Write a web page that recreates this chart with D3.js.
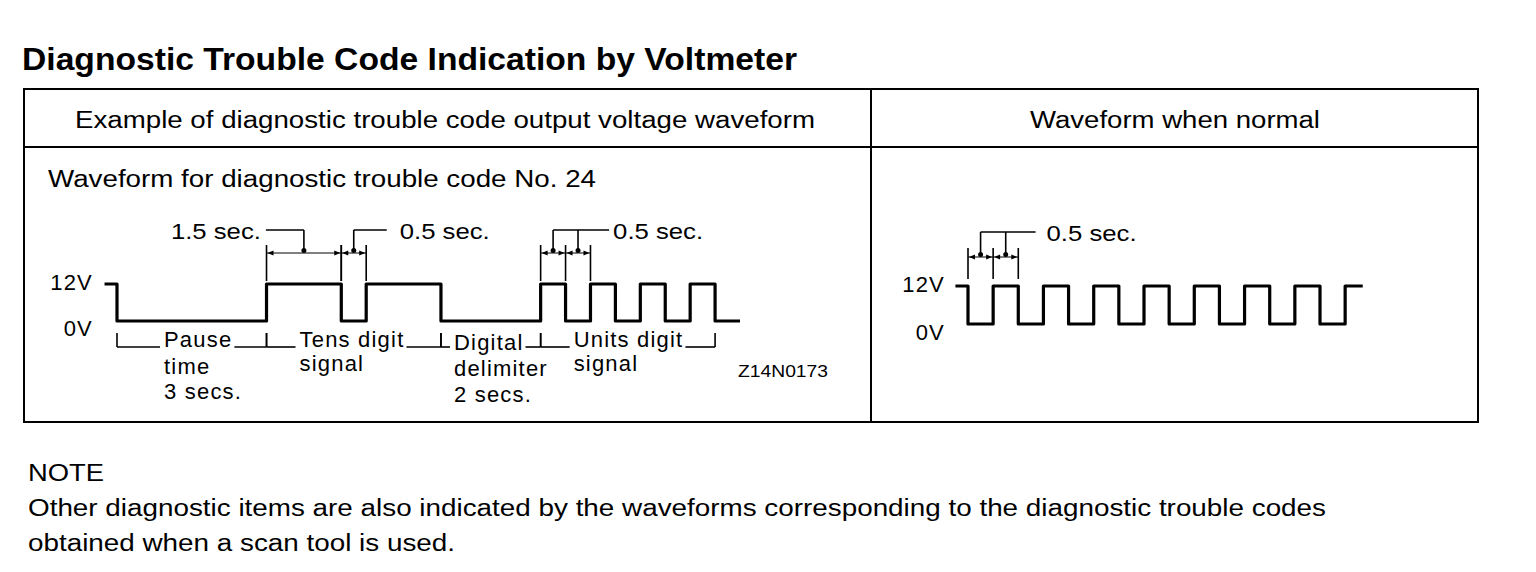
<!DOCTYPE html>
<html>
<head>
<meta charset="utf-8">
<script src="https://cdn.jsdelivr.net/npm/d3@7"></script>
<style>
  body { margin: 0; background: #fff; }
  text { font-family: "Liberation Sans", Arial, sans-serif; fill: #000; }
  .lbl { font-size: 22px; letter-spacing: 1.2px; }
</style>
</head>
<body>
<div id="chart"></div>
<script>
// texts
const titleText = "Diagnostic Trouble Code Indication by Voltmeter";
const headerTexts = ["Example of diagnostic trouble code output voltage waveform", "Waveform when normal"];
const subTitle = "Waveform for diagnostic trouble code No. 24";
const figCode = "Z14N0173";
const noteLines = [
  "NOTE",
  "Other diagnostic items are also indicated by the waveforms corresponding to the diagnostic trouble codes",
  "obtained when a scan tool is used."
];
const levelValues = [12, 0];
const levelLabels = ["12V", "0V"];

// code 24 waveform: time (sec) where each level starts, and the level (V)
const codeTimes  = [-0.25, 0, 3, 4.5, 5, 6.5, 8.5, 9, 9.5, 10, 10.5, 11, 11.5, 12, 12.5];
const codeLevels = [12,    0, 12, 0,  12, 0,  12,  0, 12,  0,  12,   0,  12,   0,  0];

// normal waveform
const normalTimes  = [-0.25, 0, 0.5, 1, 1.5, 2, 2.5, 3, 3.5, 4, 4.5, 5, 5.5, 6, 6.5, 7, 7.5, 7.85];
const normalLevels = [12,    0, 12,  0, 12,  0, 12,  0, 12,  0, 12,  0, 12,  0, 12,  0, 12,  12];

// labelled spans under the code waveform
const codeSpans = [
  { t0: 0,   t1: 3,   lines: ["Pause", "time", "3 secs."] },
  { t0: 3,   t1: 6.5, lines: ["Tens digit", "signal"] },
  { t0: 6.5, t1: 8.5, lines: ["Digital", "delimiter", "2 secs."] },
  { t0: 8.5, t1: 12,  lines: ["Units digit", "signal"] }
];

// dimension marks
const codeDims = [
  { ticks: [3, 4.5],      label: "1.5 sec." },
  { ticks: [4.5, 5],      label: "0.5 sec." },
  { ticks: [8.5, 9, 9.5], label: "0.5 sec." }
];
const normalDims = [
  { ticks: [0, 0.5, 1], label: "0.5 sec." }
];

// layout (not data)
const spanLayout = [
  { dx: 47, ys: [347, 374, 399] },
  { dx: 33, ys: [347, 371] },
  { dx: 13, ys: [350, 376, 402] },
  { dx: 33, ys: [347, 371] }
];
const codeDimLayout = [
  { side: "left",  len: 38, gap: 5 },
  { side: "right", len: 33, gap: 13 },
  { side: "right", len: 56, gap: 4 }
];
const normalDimLayout = [
  { side: "right", len: 55, gap: 11 }
];

const W = 1536, H = 572;
const svg = d3.select("#chart").append("svg")
    .attr("width", W)
    .attr("height", H);

svg.append("rect").attr("width", W).attr("height", H).attr("fill", "#fff");

// title
svg.append("text")
    .attr("x", 22).attr("y", 70)
    .style("font-family", "'Liberation Sans Narrow', 'Liberation Sans', Arial, sans-serif")
    .style("font-weight", "bold")
    .style("font-size", "31px")
    .attr("textLength", 775)
    .attr("lengthAdjust", "spacingAndGlyphs")
    .text(titleText);

// table frame
const table = svg.append("g")
    .attr("fill", "none")
    .attr("stroke", "#000")
    .attr("stroke-width", 2);
table.append("rect").attr("x", 24).attr("y", 89).attr("width", 1454).attr("height", 333);
table.append("line").attr("x1", 24).attr("x2", 1478).attr("y1", 147).attr("y2", 147);
table.append("line").attr("x1", 871).attr("x2", 871).attr("y1", 89).attr("y2", 422);

const headerPos = [{ x: 75, w: 740 }, { x: 1030, w: 290 }];
svg.selectAll(".hdr")
  .data(headerTexts)
  .enter().append("text")
    .attr("class", "hdr")
    .attr("x", (d, i) => headerPos[i].x)
    .attr("y", 128)
    .style("font-size", "23px")
    .attr("textLength", (d, i) => headerPos[i].w)
    .attr("lengthAdjust", "spacingAndGlyphs")
    .text(d => d);

svg.append("text")
    .attr("x", 48).attr("y", 187)
    .style("font-size", "23px")
    .attr("textLength", 548)
    .attr("lengthAdjust", "spacingAndGlyphs")
    .text(subTitle);

// scales
const xCode = d3.scaleLinear().domain([0, 12.5]).range([117, 740]);
const yCode = d3.scaleLinear().domain([0, 12]).range([321, 284]);
const xNorm = d3.scaleLinear().domain([0, 7]).range([968, 1320]);
const yNorm = d3.scaleLinear().domain([0, 12]).range([324, 286]);

function drawWave(times, levels, x, y) {
  const pts = times.map((t, i) => ({ t: t, v: levels[i] }));
  const line = d3.line()
      .x(d => x(d.t))
      .y(d => y(d.v))
      .curve(d3.curveStepAfter);
  svg.append("path")
      .datum(pts)
      .attr("d", line)
      .attr("fill", "none")
      .attr("stroke", "#000")
      .attr("stroke-width", 3.2)
      .attr("stroke-linejoin", "round");
}

function drawLevels(x0, y, dy) {
  svg.selectAll(null)
    .data(levelValues)
    .enter().append("text")
      .attr("class", "lbl")
      .attr("x", x0)
      .attr("y", (d, i) => y(d) + dy[i])
      .attr("text-anchor", "end")
      .text((d, i) => levelLabels[i]);
}

function drawDims(dims, layout, x, opts) {
  const g = svg.append("g").attr("stroke", "#000").attr("fill", "none");
  dims.forEach((dim, k) => {
    const lay = layout[k];
    const xs = dim.ticks.map(x);
    // extension lines
    xs.forEach(px => {
      g.append("line")
          .attr("x1", px).attr("x2", px)
          .attr("y1", opts.extTop).attr("y2", opts.extBottom)
          .attr("stroke-width", 1.6);
    });
    // dimension line
    g.append("line")
        .attr("x1", xs[0]).attr("x2", xs[xs.length - 1])
        .attr("y1", opts.dimY).attr("y2", opts.dimY)
        .attr("stroke-width", 1);
    const mids = [];
    for (let i = 0; i < xs.length - 1; i++) {
      const a = xs[i], b = xs[i + 1];
      mids.push((a + b) / 2);
      // arrowheads
      svg.append("path")
          .attr("d", `M${a + 1},${opts.dimY} l6,-2.5 l0,5 z`)
          .attr("fill", "#000");
      svg.append("path")
          .attr("d", `M${b - 1},${opts.dimY} l-6,-2.5 l0,5 z`)
          .attr("fill", "#000");
    }
    // leaders
    mids.forEach(m => {
      g.append("line")
          .attr("x1", m).attr("x2", m)
          .attr("y1", opts.leadY).attr("y2", opts.dimY - 3)
          .attr("stroke-width", 1.6);
      svg.append("circle")
          .attr("cx", m).attr("cy", opts.dimY - 2.5).attr("r", 2.5)
          .attr("fill", "#000");
    });
    let lx0, lx1, tx, anchor;
    if (lay.side === "left") {
      lx1 = mids[mids.length - 1];
      lx0 = mids[0] - lay.len;
      tx = lx0 - lay.gap;
      anchor = "end";
    } else {
      lx0 = mids[0];
      lx1 = mids[0] + lay.len;
      tx = lx1 + lay.gap;
      anchor = "start";
    }
    g.append("line")
        .attr("x1", lx0).attr("x2", lx1)
        .attr("y1", opts.leadY).attr("y2", opts.leadY)
        .attr("stroke-width", 1.6);
    svg.append("text")
        .attr("x", anchor === "end" ? tx - 90 : tx).attr("y", opts.leadY + 9)
        .style("font-size", "22px")
        .attr("textLength", 90)
        .attr("lengthAdjust", "spacingAndGlyphs")
        .text(dim.label);
  });
}

// left waveform
drawWave(codeTimes, codeLevels, xCode, yCode);
drawLevels(93, yCode, [6, 15]);
drawDims(codeDims, codeDimLayout, xCode,
  { extTop: 245, extBottom: 281, dimY: 253, leadY: 230 });

// spans with brackets
const bracketY = 347, tickTop = 333;
codeSpans.forEach((s, k) => {
  const lay = spanLayout[k];
  const a = xCode(s.t0), b = xCode(s.t1);
  const g = svg.append("g");
  let firstW = 0;
  s.lines.forEach((ln, i) => {
    const t = g.append("text")
        .attr("class", "lbl")
        .attr("x", a + lay.dx)
        .attr("y", lay.ys[i])
        .text(ln);
    if (i === 0) firstW = t.node().getComputedTextLength();
  });
  const tx0 = a + lay.dx, tx1 = tx0 + firstW;
  const br = svg.append("g").attr("stroke", "#000").attr("stroke-width", 1.6).attr("fill", "none");
  br.append("line").attr("x1", a).attr("x2", a).attr("y1", tickTop).attr("y2", bracketY);
  br.append("line").attr("x1", b).attr("x2", b).attr("y1", tickTop).attr("y2", bracketY);
  if (tx0 - a > 8) br.append("line").attr("x1", a).attr("x2", tx0 - 4).attr("y1", bracketY).attr("y2", bracketY);
  br.append("line").attr("x1", tx1 + 2).attr("x2", b).attr("y1", bracketY).attr("y2", bracketY);
});

svg.append("text")
    .attr("x", 738).attr("y", 377)
    .style("font-size", "16px")
    .attr("textLength", 90)
    .attr("lengthAdjust", "spacingAndGlyphs")
    .text(figCode);

// right waveform
drawWave(normalTimes, normalLevels, xNorm, yNorm);
drawLevels(945, yNorm, [6, 16]);
drawDims(normalDims, normalDimLayout, xNorm,
  { extTop: 248, extBottom: 279, dimY: 257, leadY: 232 });

// note
const notePos = [{ y: 481, w: 76 }, { y: 516, w: 1298 }, { y: 551, w: 427 }];
svg.selectAll(".note")
  .data(noteLines)
  .enter().append("text")
    .attr("class", "note")
    .attr("x", 28)
    .attr("y", (d, i) => notePos[i].y)
    .style("font-size", "23px")
    .attr("textLength", (d, i) => notePos[i].w)
    .attr("lengthAdjust", "spacingAndGlyphs")
    .text(d => d);
</script>
</body>
</html>
